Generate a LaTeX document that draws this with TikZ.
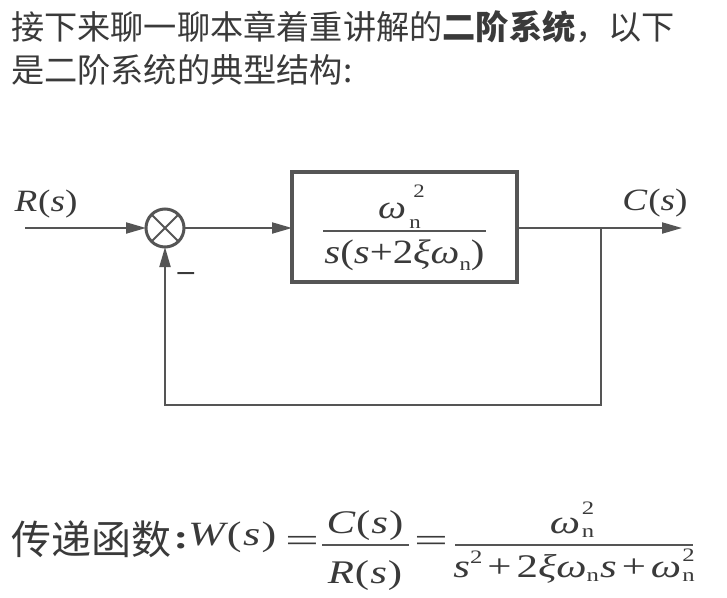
\documentclass[tikz,border=0pt]{standalone}
\usepackage{fontspec}
\usepackage{graphicx}
\setmainfont{Liberation Serif}
\newfontfamily\cjk{Noto Sans CJK SC}
\newfontfamily\fmA[FakeStretch=1.2]{Liberation Serif}
\newfontfamily\fmB[FakeStretch=1.3]{Liberation Serif}
\usetikzlibrary{arrows.meta}
\definecolor{txt}{HTML}{3A3A3A}
\definecolor{ln}{HTML}{555555}
\newcommand{\fsz}[1]{\fontsize{#1}{#1}\selectfont}
\newcommand{\ital}[1]{{\itshape #1}}
\begin{document}
\begin{tikzpicture}[x=1pt,y=-1pt,
  flow/.style={draw=ln, line width=2pt, -{Triangle[length=20pt,width=11pt]}},
  lbl/.style={inner sep=0, outer sep=0, text=txt},
  barline/.style={draw=ln, line width=2.3pt},
  ]
\useasboundingbox (0,0) rectangle (727,597);
\fill[white] (0,0) rectangle (727,597);

% heading
\node[lbl, anchor=west, font=\cjk\fsz{33.2}] (h1) at (11,27) {接下来聊一聊本章着重讲解的{\bfseries 二阶系统}，以下};
\node[lbl, anchor=west, font=\cjk\fsz{33.2}] (h2) at (11,70) {是二阶系统的典型结构:};

% block diagram
\node[circle, draw=ln, line width=3pt, minimum size=38pt, inner sep=0, outer sep=0] (sum) at (165,228) {};
\draw[ln, line width=2pt] (sum.45) -- (sum.225) (sum.135) -- (sum.315);
\node[draw=ln, line width=3.5pt, minimum width=225pt, minimum height=110pt, inner sep=0, outer sep=0] (G) at (404.5,227) {};

\coordinate (in) at (25,228);
\coordinate (out) at (682,228);
\coordinate (br) at (601,228);
\coordinate (bl) at (601,405);
\draw[flow] (in) -- (sum);
\draw[flow] (sum) -- (sum -| G.west);
\draw[flow] (G.east |- out) -- (out);
\draw[flow] (br) -- (bl) -| (sum);

\node[lbl, font=\fmA\fsz{31}] (Rs) at (46,204) {\ital{R}\hspace{1pt}(\ital{s})};
\node[lbl, font=\fmA\fsz{31}] (Cs) at (655,203) {\ital{C}\hspace{1pt}(\ital{s})};
\node[lbl, font=\fmA\fsz{30}\bfseries] (neg) at (186,278) {−};

\node[lbl, font=\fmA\fsz{33}, anchor=base] (w1) at (392,218) {\ital{ω}};
\node[lbl, font=\fmA\fsz{19}, anchor=base] (w1s) at (419,197) {2};
\node[lbl, font=\fmA\fsz{19}, anchor=base] (w1n) at (415,228) {n};
\draw[barline] (323,231) -- (486,231);
\node[lbl, font=\fmA\fsz{34}, anchor=base] (den1) at (404.5,263) {\ital{s}(\ital{s}+2\ital{ξω}\raisebox{-7pt}{\fsz{19}n})};

% transfer function
\node[lbl, anchor=west, font=\cjk\fsz{40}] (tf) at (11,539) {传递函数};
\node[lbl, font=\fmB\fsz{34}\bfseries] (colon) at (181,541) {:};
\node[lbl, font=\fmB\fsz{34}, anchor=base west] (W) at (188,545) {\ital{W}\hspace{2pt}(\hspace{1.5pt}\ital{s}\hspace{1.5pt})};
\node[lbl, font=\fmB\fsz{33}] (eq1) at (302,544) {\scalebox{1.4}[1]{=}};
\node[lbl, font=\fmB\fsz{33}, anchor=base] (C2) at (365,533) {\ital{C}\hspace{1pt}(\hspace{1pt}\ital{s}\hspace{1pt})};
\draw[barline, line width=2pt] (322,545) -- (409,545);
\node[lbl, font=\fmB\fsz{33}, anchor=base] (R2) at (365,583) {\ital{R}\hspace{1pt}(\hspace{1pt}\ital{s}\hspace{1pt})};
\node[lbl, font=\fmB\fsz{33}] (eq2) at (431,544) {\scalebox{1.4}[1]{=}};
\draw[barline, line width=2pt] (455,545) -- (693,545);
\node[lbl, font=\fmB\fsz{33}, anchor=base] (w2) at (565,533) {\ital{ω}};
\node[lbl, font=\fmB\fsz{19}, anchor=base] (w2s) at (588,514) {2};
\node[lbl, font=\fmB\fsz{19}, anchor=base] (w2n) at (588,537) {n};
\node[lbl, font=\fmB\fsz{33}, anchor=base] (den2) at (574,577) {\ital{s}\raisebox{14pt}{\fsz{19}2}\hspace{5pt}+\hspace{5pt}2\ital{ξω}\raisebox{-4pt}{\fsz{19}n}\hspace{1pt}\ital{s}\hspace{5pt}+\hspace{5pt}\ital{ω}\rlap{\raisebox{16pt}{\fsz{19}\hspace{1pt}2}}\raisebox{-4pt}{\fsz{19}\hspace{1pt}n}};
\end{tikzpicture}
\end{document}
